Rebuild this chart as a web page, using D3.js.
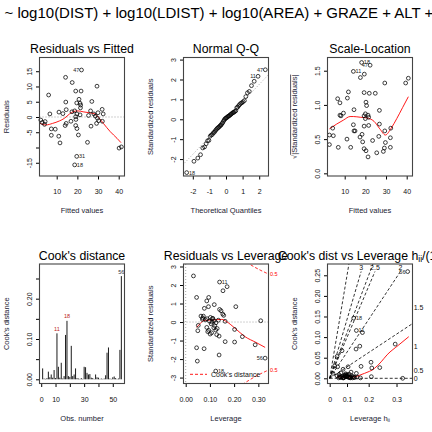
<!DOCTYPE html>
<html><head><meta charset="utf-8">
<script src="https://cdn.jsdelivr.net/npm/d3@7"></script>
<style>body{margin:0;background:#fff}svg text{font-family:"Liberation Sans",Arial,Helvetica,sans-serif}</style>
</head><body><svg id="c" width="432" height="432"></svg>
<script>
// ---------- data ----------
const caption = "~ log10(DIST) + log10(LDIST) + log10(AREA) + GRAZE + ALT + YR.ISOL ...";
const titles = ["Residuals vs Fitted","Normal Q-Q","Scale-Location","Cook's distance","Residuals vs Leverage"];
// Residuals vs Fitted
const rfFitted = [22.0,14.3,17.5,29.5,19.2,21.8,6.1,20.8,14.4,27.0,19.7,21.3,21.6,14.6,21.5,32.0,11.1,13.0,6.7,17.4,18.7,26.4,30.0,28.0,32.5,19.8,21.3,25.4,28.7,19.2,29.7,19.3,2.3,30.3,32.1,4.4,3.0,4.1,14.6,29.3,14.1,19.2,26.6,19.8,7.4,9.3,7.4,11.0,20.5,11.6,24.9,40.2,41.3,19.7,18.7,16.9];
const rfResid = [15.4,13.0,11.3,10.1,8.5,8.5,7.2,5.8,4.9,5.1,4.6,4.5,3.9,2.4,3.0,2.5,1.6,1.1,1.0,1.7,2.0,2.0,1.4,1.0,1.0,1.0,0.7,0.5,0.3,0.1,-0.4,-0.8,-1.0,-1.2,-1.4,-1.5,-1.8,-2.4,-2.1,-2.1,-2.8,-2.8,-3.0,-3.8,-3.9,-4.0,-6.0,-6.3,-5.9,-8.5,-8.3,-10.2,-9.8,-12.9,-15.7,-1.4];
const rfLabelIdx = [0,53,54], rfLabelTxt = ["47","31","18"];
const rfSmoothX = [2.0,4.8,8.0,11.3,13.8,16.2,18.2,20.3,22.8,25.7,28.5,30.2,32.6,35.9,39.2,41.1];
const rfSmoothY = [-2.1,-2.6,-2.1,-1.3,-0.4,1.0,1.8,2.0,1.7,1.4,1.0,-0.1,-2.1,-4.8,-7.0,-8.4];
// Normal Q-Q (sorted standardized residuals)
const qqSample = [-2.68,-2.11,-1.95,-1.78,-1.44,-1.39,-1.23,-1.08,-1.06,-0.85,-0.79,-0.76,-0.68,-0.65,-0.58,-0.52,-0.47,-0.43,-0.40,-0.36,-0.31,-0.29,-0.22,-0.18,-0.10,-0.04,0.02,0.05,0.07,0.10,0.14,0.16,0.18,0.22,0.25,0.28,0.32,0.34,0.36,0.40,0.43,0.58,0.61,0.68,0.74,0.80,0.83,0.88,0.94,1.14,1.33,1.40,1.69,1.91,2.16,2.49];
const qqLabelIdx = [0,54,55], qqLabelTxt = ["18","11","47"];
// Scale-Location
const slFitted = [18.2,22.3,14.2,19.5,17.6,29.4,39.5,40.8,11.8,19.4,21.9,24.8,6.6,11.3,7.7,20.3,20.6,26.8,14.5,9.4,7.7,8.2,20.0,19.4,21.3,20.0,21.6,14.2,21.6,26.8,19.4,4.2,29.4,32.3,14.5,15.0,2.6,4.5,18.4,17.4,26.5,32.1,11.1,18.7,23.5,29.7,2.6,6.9,12.9,19.4,29.2,32.1,20.3,28.7,25.5,21.3];
const slValue = [1.62,1.58,1.49,1.45,1.40,1.32,1.32,1.39,1.19,1.18,1.17,1.17,1.09,1.10,1.03,1.04,0.99,0.92,0.93,0.88,0.85,0.84,0.87,0.84,0.85,0.80,0.82,0.71,0.70,0.72,0.69,0.66,0.62,0.66,0.62,0.62,0.56,0.55,0.57,0.53,0.54,0.52,0.50,0.46,0.48,0.45,0.42,0.38,0.38,0.36,0.37,0.38,0.33,0.32,0.30,0.24];
const slLabelIdx = [0,1,2], slLabelTxt = ["18","47","11"];
const slSmoothX = [2.6,6.1,9.5,12.6,14.2,17.5,20.6,24.2,27.0,29.7,32.5,35.2,38.0,40.8];
const slSmoothY = [0.65,0.72,0.78,0.83,0.83,0.82,0.81,0.76,0.65,0.56,0.66,0.80,0.96,1.12];
// Cook's distance by observation number
const cooks = [0.027,0.002,0.001,0.003,0.019,0.005,0.012,0.004,0.023,0.003,0.114,0.031,0.004,0.041,0.002,0.008,0.110,0.145,0.008,0.006,0.083,0.008,0.012,0.027,0.003,0.002,0.001,0.003,0.001,0.031,0.030,0.016,0.012,0.013,0.004,0.003,0.001,0.012,0.005,0.004,0.001,0.002,0.001,0.002,0.010,0.066,0.079,0.002,0.001,0.005,0.007,0.003,0.001,0.002,0.073,0.256];
const cookLabelObs = [11,18,56];
// Residuals vs Leverage
const rlLev = [0.032,0.140,0.171,0.154,0.045,0.095,0.087,0.118,0.077,0.094,0.207,0.140,0.146,0.153,0.157,0.063,0.073,0.102,0.110,0.069,0.088,0.117,0.163,0.310,0.052,0.125,0.087,0.116,0.124,0.050,0.202,0.091,0.107,0.101,0.128,0.138,0.234,0.163,0.202,0.287,0.045,0.076,0.138,0.048,0.328,0.124,0.082,0.098,0.105,0.112,0.120,0.130,0.135,0.095,0.108,0.070];
const rlStd = [2.49,2.16,1.91,1.69,1.33,1.33,1.14,0.94,0.74,0.83,0.83,0.68,0.61,0.43,0.36,0.32,0.32,0.25,0.18,0.14,0.18,0.07,0.04,0.07,-0.18,-0.04,-0.29,-0.31,-0.43,-0.47,-0.40,-0.52,-0.58,-0.65,-0.68,-0.76,-0.79,-1.06,-1.08,-1.23,-1.39,-1.44,-1.78,-2.11,-1.95,-2.65,0.12,0.05,-0.10,0.20,-0.20,-0.35,0.10,-0.45,0.00,0.22];
const rlLabelIdx = [1,44,45], rlLabelTxt = ["11","56","18"];
const rlSmoothX = [0.045,0.060,0.073,0.090,0.107,0.130,0.149,0.169,0.204,0.245,0.290,0.328];
const rlSmoothY = [-0.29,-0.08,0.07,0.10,0.11,0.13,0.14,0.02,-0.34,-0.79,-1.10,-1.37];
const cookLevels = [0.5, 1.0];
const nParams = 7;
// Cook's dist vs Leverage h/(1-h)
const clG = [0.50,0.154,0.171,0.21,0.169,0.193,0.42,0.079,0.047,0.032,0.051,0.201,0.265,0.321,0.27,0.118,0.086,0.137,0.171,0.267,0.468,0.021,0.047,0.068,0.090,0.111,0.132,0.154,0.175,0.197,0.060,0.080,0.100,0.12,0.14,0.16,0.075,0.095,0.105,0.125,0.145,0.065,0.085,0.11,0.13,0.15,0.058,0.092,0.115,0.135,0.102,0.072,0.122,0.088,0.098,0.108];
const clCook = [0.259,0.146,0.116,0.111,0.071,0.078,0.083,0.067,0.053,0.030,0.028,0.029,0.039,0.026,0.025,0.028,0.022,0.015,0.012,0.004,0.000,0.012,0.006,0.003,0.002,0.004,0.001,0.002,0.003,0.001,0.009,0.005,0.008,0.003,0.006,0.002,0.002,0.007,0.004,0.010,0.001,0.003,0.001,0.006,0.002,0.004,0.001,0.002,0.008,0.003,0.011,0.013,0.002,0.001,0.005,0.009];
const clLabelIdx = [0,1,2], clLabelTxt = ["56","18","11"];
const clSmoothX = [0.047,0.100,0.165,0.195,0.223,0.287,0.330,0.368,0.443,0.507];
const clSmoothY = [0.004,0.003,0.004,0.008,0.012,0.024,0.040,0.057,0.081,0.101];
const clHatTicks = [0,0.1,0.2,0.3];
const clBval = [0,0.5,1,1.5,2,2.5,3];

// ---------- helpers ----------
const svg = d3.select("#c");
const TICK = 7, LAB = 7.5, TIT = 12.3, ID = 5.5;
function box(col,row){const l=39.5+144*col,r=124.5+144*col;return row?{l,r,t:264,b:383.5}:{l,r,t:57.5,b:176};}
let clipN=0;
function panel(B,xd,yd){
  const g = svg.append("g");
  const id="cl"+(clipN++);
  g.append("clipPath").attr("id",id).append("rect").attr("x",B.l).attr("y",B.t).attr("width",B.r-B.l).attr("height",B.b-B.t);
  const x=d3.scaleLinear().domain(xd).range([B.l,B.r]);
  const y=d3.scaleLinear().domain(yd).range([B.b,B.t]);
  const inner=g.append("g").attr("clip-path",`url(#${id})`);
  return {g,inner,x,y,B};
}
function axes(P,xt,yt){
  const {g,x,y,B}=P;
  const gx=g.append("g").attr("transform",`translate(0,${B.b})`)
    .call(d3.axisBottom(x).tickValues(xt.map(d=>d.v)).tickFormat((d,i)=>xt[i].t).tickSize(3.5).tickSizeOuter(0));
  gx.select(".domain").remove();
  gx.selectAll("line").attr("stroke","#000");
  gx.selectAll("text").attr("y",15.7).attr("dy","0.35em").attr("font-size",TICK).attr("fill","#111").attr("font-family",null);
  const gy=g.append("g").attr("transform",`translate(${B.l},0)`)
    .call(d3.axisLeft(y).tickValues(yt.map(d=>d.v)).tickFormat((d,i)=>yt[i].t).tickSize(3.5).tickSizeOuter(0));
  gy.select(".domain").remove();
  gy.selectAll("line").attr("stroke","#000");
  gy.selectAll("text").attr("transform","rotate(-90)").attr("x",0).attr("y",-10).attr("dy","0.35em")
    .attr("text-anchor","middle").attr("font-size",TICK).attr("fill","#111").attr("font-family",null);
}
function frame(P){
  const B=P.B;
  P.g.append("rect").attr("x",B.l).attr("y",B.t).attr("width",B.r-B.l).attr("height",B.b-B.t)
    .attr("fill","none").attr("stroke","#444").attr("stroke-width",1.1);
}
function labels(P,title,xl,yl){
  const B=P.B, cx=(B.l+B.r)/2, cy=(B.t+B.b)/2;
  if(title) P.g.append("text").attr("x",cx).attr("y",B.t-4.5).attr("text-anchor","middle").attr("font-size",TIT).attr("fill","#000").text(title);
  if(xl) P.g.append("text").attr("x",cx).attr("y",B.b+34.7).attr("dy","0.35em").attr("text-anchor","middle").attr("font-size",LAB).attr("fill","#1a1a33").text(xl);
  if(yl) P.g.append("text").attr("transform",`translate(${B.l-32.8},${cy}) rotate(-90)`).attr("dy","0.35em").attr("text-anchor","middle").attr("font-size",LAB).attr("fill","#1a1a33").text(yl);
}
function points(P,xs,ys){
  P.g.append("g").selectAll("circle").data(xs).join("circle")
    .attr("cx",(d)=>P.x(d)).attr("cy",(d,i)=>P.y(ys[i])).attr("r",1.9)
    .attr("fill","none").attr("stroke","#000").attr("stroke-width",0.75);
}
function smooth(P,xs,ys){
  P.inner.append("path").datum(xs.map((d,i)=>[d,ys[i]]))
    .attr("d",d3.line().x(d=>P.x(d[0])).y(d=>P.y(d[1])).curve(d3.curveMonotoneX))
    .attr("fill","none").attr("stroke","#ff0000").attr("stroke-width",0.9);
}
function hline(P,v,color,dash){
  P.inner.append("line").attr("x1",P.B.l).attr("x2",P.B.r).attr("y1",P.y(v)).attr("y2",P.y(v))
    .attr("stroke",color).attr("stroke-dasharray",dash).attr("stroke-width",0.9);
}
function idText(P,xs,ys,idx,txt){
  const lx=idx.map(i=>xs[i]); const mid=(d3.min(lx)+d3.max(lx))/2;
  idx.forEach((k,j)=>{
    const right = xs[k] <= mid;
    P.g.append("text").attr("x",P.x(xs[k])+(right?2.2:-2.2)).attr("y",P.y(ys[k])).attr("dy","0.35em")
      .attr("text-anchor",right?"start":"end").attr("font-size",ID).attr("fill","#222").text(txt[j]);
  });
}

// ---------- caption ----------
svg.append("text").attr("x",4.5).attr("y",17.9).attr("font-size",15).attr("fill","#000").text(caption);

// ---------- 1. Residuals vs Fitted ----------
{
  const P=panel(box(0,0),[1.68,42.81],[-19.34,19.5]);
  hline(P,0,"#9a9a9a","1,2");
  points(P,rfFitted,rfResid);
  smooth(P,rfSmoothX,rfSmoothY);
  idText(P,rfFitted,rfResid,rfLabelIdx,rfLabelTxt);
  axes(P,[10,20,30,40].map(v=>({v,t:String(v)})),[-15,-10,-5,0,5,10,15].map(v=>({v,t:v===-10?"":String(v)})));
  frame(P); labels(P,titles[0],"Fitted values","Residuals");
}
// ---------- 2. Normal Q-Q ----------
function qnorm(p){
  const a=[-3.969683028665376e+01,2.209460984245205e+02,-2.759285104469687e+02,1.383577518672690e+02,-3.066479806614716e+01,2.506628277459239e+00];
  const b=[-5.447609879822406e+01,1.615858368580409e+02,-1.556989798598866e+02,6.680131188771972e+01,-1.328068155288572e+01];
  const c=[-7.784894002430293e-03,-3.223964580411365e-01,-2.400758277161838e+00,-2.549732539343734e+00,4.374664141464968e+00,2.938163982698783e+00];
  const d=[7.784695709041462e-03,3.224671290700398e-01,2.445134137142996e+00,3.754408661907416e+00];
  const pl=0.02425;let q,r;
  if(p<pl){q=Math.sqrt(-2*Math.log(p));return (((((c[0]*q+c[1])*q+c[2])*q+c[3])*q+c[4])*q+c[5])/((((d[0]*q+d[1])*q+d[2])*q+d[3])*q+1);}
  if(p<=1-pl){q=p-0.5;r=q*q;return (((((a[0]*r+a[1])*r+a[2])*r+a[3])*r+a[4])*r+a[5])*q/(((((b[0]*r+b[1])*r+b[2])*r+b[3])*r+b[4])*r+1);}
  q=Math.sqrt(-2*Math.log(1-p));return -(((((c[0]*q+c[1])*q+c[2])*q+c[3])*q+c[4])*q+c[5])/((((d[0]*q+d[1])*q+d[2])*q+d[3])*q+1);
}
{
  const n=qqSample.length;
  const th=qqSample.map((d,i)=>qnorm((i+1-0.5)/n));
  const P=panel(box(1,0),[-2.56,2.56],[-2.85,3.105]);
  const y1=d3.quantile(qqSample,0.25), y3=d3.quantile(qqSample,0.75), x1=qnorm(0.25), x3=qnorm(0.75);
  const slope=(y3-y1)/(x3-x1), icpt=y1-slope*x1;
  P.inner.append("line").attr("x1",P.x(-3)).attr("x2",P.x(3)).attr("y1",P.y(icpt-3*slope)).attr("y2",P.y(icpt+3*slope))
    .attr("stroke","#9a9a9a").attr("stroke-dasharray","1,2").attr("stroke-width",0.9);
  points(P,th,qqSample);
  idText(P,th,qqSample,qqLabelIdx,qqLabelTxt);
  axes(P,[-2,-1,0,1,2].map(v=>({v,t:String(v)})),[-2,-1,0,1,2,3].map(v=>({v,t:String(v)})));
  frame(P); labels(P,titles[1],"Theoretical Quantiles","Standardized residuals");
}
// ---------- 3. Scale-Location ----------
{
  const P=panel(box(2,0),[1.68,42.81],[-0.039,1.693]);
  points(P,slFitted,slValue);
  smooth(P,slSmoothX,slSmoothY);
  idText(P,slFitted,slValue,slLabelIdx,slLabelTxt);
  axes(P,[10,20,30,40].map(v=>({v,t:String(v)})),[0,0.5,1,1.5].map(v=>({v,t:v.toFixed(1)})));
  frame(P); labels(P,titles[2],"Fitted values",null);
  const B=P.B, cy=(B.t+B.b)/2;
  const t=P.g.append("text").attr("transform",`translate(${B.l-32.8},${cy}) rotate(-90)`).attr("dy","0.35em")
    .attr("text-anchor","middle").attr("font-size",LAB).attr("fill","#1a1a33");
  t.append("tspan").text("\u221A");
  t.append("tspan").attr("text-decoration","overline").text("|Standardized residuals|");
}
// ---------- 4. Cook's distance ----------
{
  const obs=d3.range(1,cooks.length+1);
  const P=panel(box(0,1),[-1.2,58.2],[-0.0104,0.286]);
  P.g.append("g").selectAll("line").data(obs).join("line")
    .attr("x1",d=>P.x(d)).attr("x2",d=>P.x(d)).attr("y1",P.y(0)).attr("y2",d=>P.y(cooks[d-1]))
    .attr("stroke","#000").attr("stroke-width",0.9);
  cookLabelObs.forEach(o=>{
    P.g.append("text").attr("x",P.x(o)).attr("y",P.y(cooks[o-1])-2.5).attr("text-anchor","middle")
      .attr("font-size",ID).attr("fill",o===56?"#334":"#b22").text(String(o));
  });
  axes(P,[0,10,20,30,40,50].map(v=>({v,t:(v===20||v===40)?"":String(v)})),[0,0.05,0.1,0.15,0.2,0.25].map(v=>({v,t:[0,0.1,0.2].includes(v)?v.toFixed(2):""})));
  frame(P); labels(P,titles[3],"Obs. number","Cook's distance");
}
// ---------- 5. Residuals vs Leverage ----------
{
  const P=panel(box(1,1),[-0.0091,0.342],[-3.32,3.135]);
  hline(P,0,"#9a9a9a","1,2");
  P.inner.append("line").attr("x1",P.x(0)).attr("x2",P.x(0)).attr("y1",P.B.t).attr("y2",P.B.b)
    .attr("stroke","#9a9a9a").attr("stroke-dasharray","1,2").attr("stroke-width",0.9);
  points(P,rlLev,rlStd);
  smooth(P,rlSmoothX,rlSmoothY);
  const hmax=P.x.domain()[1];
  const hh=d3.range(101).map(i=>0.002+(hmax-0.002)*i/100);
  cookLevels.forEach(c=>{
    [1,-1].forEach(s=>{
      P.inner.append("path").datum(hh).attr("d",d3.line().x(h=>P.x(h)).y(h=>P.y(s*Math.sqrt(c*nParams*(1-h)/h))))
        .attr("fill","none").attr("stroke","#ff0000").attr("stroke-dasharray","3,2").attr("stroke-width",0.9);
    });
  });
  const ymult=Math.sqrt(nParams*(1-hmax)/hmax);
  cookLevels.forEach(c=>{
    [1,-1].forEach(s=>{
      const v=s*Math.sqrt(c)*ymult;
      if(v>P.y.domain()[0] && v<P.y.domain()[1])
        P.g.append("text").attr("x",P.B.r+1.5).attr("y",P.y(v)).attr("dy","0.35em").attr("font-size",ID).attr("fill","#f00").text(String(c));
    });
  });
  idText(P,rlLev,rlStd,rlLabelIdx,rlLabelTxt);
  const ly=374.3;
  P.g.append("line").attr("x1",190).attr("x2",207).attr("y1",ly).attr("y2",ly).attr("stroke","#ff0000").attr("stroke-dasharray","3,2").attr("stroke-width",0.9);
  P.g.append("text").attr("x",211).attr("y",ly).attr("dy","0.35em").attr("font-size",TICK).attr("fill","#111").text("Cook's distance");
  axes(P,[0,0.1,0.2,0.3].map(v=>({v,t:v.toFixed(2)})),[-3,-2,-1,0,1,2,3].map(v=>({v,t:String(v)})));
  frame(P); labels(P,titles[4],"Leverage","Standardized residuals");
}
// ---------- 6. Cook's dist vs Leverage ----------
{
  const P=panel(box(2,1),[-0.0141,0.531],[-0.0126,0.2774]);
  const xmax=P.x.domain()[1], ymax=P.y.domain()[1];
  const sh=5/412;
  clBval.forEach(bv=>{
    const bi2=bv*bv;
    if(nParams*ymax > bi2*xmax){
      // as in R's plot.lm: abline(0, bi2) while the label sits at bi2*x/p
      P.inner.append("line").attr("x1",P.x(0)).attr("y1",P.y(0)).attr("x2",P.x(xmax)).attr("y2",P.y(bi2*xmax))
        .attr("stroke","#000").attr("stroke-dasharray","3,2").attr("stroke-width",0.8);
      P.g.append("text").attr("x",P.B.r+1.2).attr("y",P.y(bi2*xmax/nParams)).attr("dy","0.35em").attr("font-size",TICK).attr("fill","#111").text(String(bv));
    } else {
      const yi=ymax-1.5*sh, xi=nParams*yi/bi2;
      P.inner.append("line").attr("x1",P.x(0)).attr("y1",P.y(0)).attr("x2",P.x(xi)).attr("y2",P.y(yi))
        .attr("stroke","#000").attr("stroke-dasharray","3,2").attr("stroke-width",0.8);
      P.g.append("text").attr("x",P.x(xi)).attr("y",P.y(ymax-0.8*sh)).attr("dy","0.35em").attr("text-anchor","middle").attr("font-size",TICK).attr("fill","#111").text(String(bv));
    }
  });
  points(P,clG,clCook);
  smooth(P,clSmoothX,clSmoothY);
  idText(P,clG,clCook,clLabelIdx,clLabelTxt);
  axes(P,clHatTicks.map(h=>({v:h/(1-h),t:String(h)})),[0,0.05,0.1,0.15,0.2,0.25].map(v=>({v,t:v.toFixed(2)})));
  frame(P);
  const B=P.B, cx=(B.l+B.r)/2, cy=(B.t+B.b)/2;
  const tt=P.g.append("text").attr("x",cx).attr("y",B.t-4.5).attr("text-anchor","middle").attr("font-size",TIT).attr("fill","#000");
  tt.append("tspan").text("Cook's dist vs Leverage  h");
  tt.append("tspan").attr("font-size",TIT*0.7).attr("dy",2.5).text("ii");
  tt.append("tspan").attr("dy",-2.5).text("/(1 - h");
  tt.append("tspan").attr("font-size",TIT*0.7).attr("dy",2.5).text("ii");
  tt.append("tspan").attr("dy",-2.5).text(")");
  const xl=P.g.append("text").attr("x",cx).attr("y",B.b+34.7).attr("dy","0.35em").attr("text-anchor","middle").attr("font-size",LAB).attr("fill","#1a1a33");
  xl.append("tspan").text("Leverage  h");
  xl.append("tspan").attr("font-size",LAB*0.7).attr("dy",1.5).text("ii");
  P.g.append("text").attr("transform",`translate(${B.l-32.8},${cy}) rotate(-90)`).attr("dy","0.35em").attr("text-anchor","middle").attr("font-size",LAB).attr("fill","#1a1a33").text("Cook's distance");
}
</script></body></html>
